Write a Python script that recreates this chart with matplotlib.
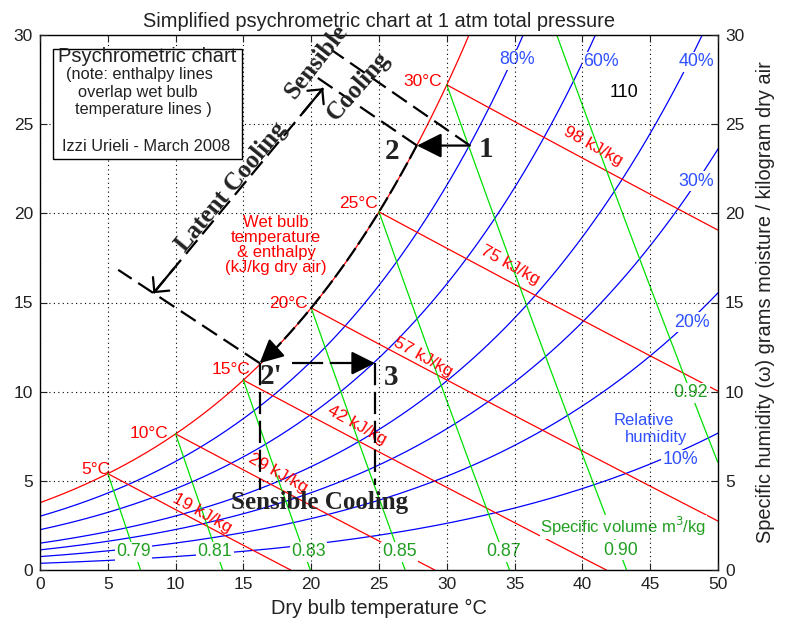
import numpy as np
import matplotlib
matplotlib.use('Agg')
import matplotlib.pyplot as plt
from matplotlib.patches import Rectangle

# ---------------- chart values ----------------
P_ATM = 101.325                                   # kPa, total pressure
rh_levels = [10, 20, 30, 40, 60, 80]              # relative humidity lines, %
rh_labels = ['10%', '20%', '30%', '40%', '60%', '80%']
wb_temps = [5, 10, 15, 20, 25, 30]                # wet bulb / saturation points, degC
wb_labels = ['5°C', '10°C', '15°C', '20°C', '25°C', '30°C']
enthalpy_labels = ['19 kJ/kg', '29 kJ/kg', '42 kJ/kg', '57 kJ/kg', '75 kJ/kg', '98 kJ/kg']
vol_temps = [5, 10, 15, 20, 25, 30, 35]           # saturation temps where volume lines start
vol_labels = ['0.79', '0.81', '0.83', '0.85', '0.87', '0.90', '0.92']
x_ticks = [0, 5, 10, 15, 20, 25, 30, 35, 40, 45, 50]
y_ticks = [0, 5, 10, 15, 20, 25, 30]

# process states (dry bulb degC, humidity g/kg)
state_names = ['1', '2', "2'", '3']
state_T = [31.7, 27.8, 16.2, 24.7]
state_w = [23.8, 23.8, 11.6, 11.6]

# ---------------- positions (layout only) ----------------
rh_label_pos = [(47.2, 6.17), (48.05, 13.9), (48.4, 21.8), (48.4, 28.5), (41.4, 28.5), (35.2, 28.6)]
wb_label_pos = [(4.12, 5.61), (8.05, 7.68), (14.07, 11.22), (18.31, 14.96), (23.47, 20.57), (28.21, 27.39)]
h_label_pos = [(11.92, 3.18), (17.57, 5.42), (23.35, 8.13), (28.27, 11.96), (34.66, 17.1), (40.8, 23.74)]
v_label_pos = [(6.9, 1.03), (12.9, 1.03), (19.8, 1.03), (26.5, 1.03), (34.2, 1.03), (42.8, 1.12), (48.0, 9.93)]
state_label_pos = [(32.9, 23.6), (26.0, 23.46), (17.08, 10.84), (25.87, 10.8)]

# ---------------- psychrometric relations ----------------
def p_ws(T):
    Tk = np.asarray(T, float) + 273.15
    return np.exp(-5.8002206e3 / Tk + 1.3914993 - 4.8640239e-2 * Tk + 4.1764768e-5 * Tk**2
                  - 1.4452093e-8 * Tk**3 + 6.5459673 * np.log(Tk)) / 1000.0

def w_of(T, phi):
    pv = phi * p_ws(T)
    return 621.98 * pv / (P_ATM - pv)

def enthalpy(T, w):
    return 1.006 * T + w / 1000.0 * (2501 + 1.86 * T)

def volume(T, w):
    return 0.287055 * (T + 273.15) * (1 + 1.6078 * w / 1000.0) / P_ATM

RED = '#ff0000'
BLUE = '#0000ff'
GREEN = '#00e000'
GREEN_TXT = '#22a022'
BLUE_TXT = '#3050ff'
SANS = ['Liberation Sans', 'DejaVu Sans']
SERIF = ['Liberation Serif', 'DejaVu Serif']
plt.rcParams['font.family'] = SANS

fig = plt.figure(figsize=(7.9, 6.23), dpi=100)
ax = fig.add_axes([40 / 790, 53 / 623, 678 / 790, 535 / 623])
ax.set_xlim(0, 50)
ax.set_ylim(0, 30)

T = np.linspace(0, 50, 1001)
# saturation curve
ax.plot(T, w_of(T, 1.0), color=RED, lw=0.9, zorder=2)
# relative humidity curves
for rh in rh_levels:
    ax.plot(T, w_of(T, rh / 100.0), color=BLUE, lw=0.9, zorder=2)

# enthalpy (wet bulb) lines
for tw in wb_temps:
    ws = float(w_of(tw, 1.0))
    h = enthalpy(tw, ws)
    t_end = min(h / 1.006, 50.0)
    tt = np.linspace(tw, t_end, 200)
    ww = 1000 * (h - 1.006 * tt) / (2501 + 1.86 * tt)
    ax.plot(tt, ww, color=RED, lw=0.9, zorder=2)

# specific volume lines
for ts in vol_temps:
    ws = float(w_of(ts, 1.0))
    v = volume(ts, ws)
    ww = np.linspace(ws, 0, 400)
    tt = v * P_ATM / (0.287055 * (1 + 1.6078 * ww / 1000.0)) - 273.15
    m = tt <= 50
    ax.plot(tt[m], ww[m], color=GREEN, lw=0.9, zorder=2)

lab_bbox = dict(boxstyle='square,pad=0.08', fc='white', ec='none')
for lab, (x, y) in zip(rh_labels, rh_label_pos):
    ax.text(x, y, lab, color=BLUE_TXT, fontsize=12.8, ha='center', va='center', zorder=2.2, bbox=lab_bbox)
for lab, (x, y) in zip(vol_labels, v_label_pos):
    ax.text(x, y, lab, color=GREEN_TXT, fontsize=12.8, ha='center', va='center', zorder=2.2, bbox=lab_bbox)
for lab, (x, y) in zip(wb_labels, wb_label_pos):
    ax.text(x, y, lab, color=RED, fontsize=12.5, ha='center', va='center', zorder=2.2)
for lab, (x, y) in zip(enthalpy_labels, h_label_pos):
    ax.text(x, y, lab, color=RED, fontsize=12.5, ha='center', va='center', rotation=-29,
            rotation_mode='anchor', zorder=2.2)

ax.text(43.0, 2.42, 'Specific volume m$^3$/kg', color=GREEN_TXT, fontsize=12, ha='center',
        va='center', zorder=2.3, bbox=dict(boxstyle='square,pad=0.02', fc='white', ec='none'))
ax.text(44.5, 8.41, 'Relative', color=BLUE_TXT, fontsize=12, ha='center', va='center')
ax.text(45.4, 7.44, 'humidity', color=BLUE_TXT, fontsize=12, ha='center', va='center')
ax.text(43.07, 26.8, '110', color='black', fontsize=13, ha='center', va='center')
ax.text(17.4, 18.2, 'Wet bulb\ntemperature\n& enthalpy\n(kJ/kg dry air)', color=RED, fontsize=12,
        ha='center', va='center', multialignment='center', linespacing=1.0)

# ---------------- note box ----------------
ax.add_patch(Rectangle((0.93, 23.03), 13.94, 6.17, fc='white', ec='black', lw=1.0, zorder=4))
box_lines = ['Psychrometric chart', '(note: enthalpy lines', 'overlap wet bulb', 'temperature lines )',
             'Izzi Urieli - March 2008']
box_pos = [(7.87, 28.77), (7.37, 27.8), (7.19, 26.77), (7.62, 25.84), (7.80, 23.75)]
box_size = [14.5, 11.8, 11.8, 11.8, 11.8]
for s, (x, y), fs in zip(box_lines, box_pos, box_size):
    ax.text(x, y, s, fontsize=fs, ha='center', va='center', zorder=5, color='#222222')

# ---------------- process annotations ----------------
K = dict(color='black', lw=1.6, zorder=3)
DASH = (8, 3.5)
p1 = (state_T[0], state_w[0]); p2 = (state_T[1], state_w[1])
p2p = (state_T[2], state_w[2]); p3 = (state_T[3], state_w[3])

def arrow(tip, tail, style='-|>', ms=38, lw=1.6):
    ax.annotate('', xy=tip, xytext=tail,
                arrowprops=dict(arrowstyle=style, mutation_scale=ms, color='black', lw=lw,
                                shrinkA=0, shrinkB=0), zorder=3)

# 1 -> 2 sensible cooling (solid, filled head)
arrow(p2, p1)
# 2 -> 2' along saturation curve (dashed)
tc = np.linspace(p2[0], p2p[0] + 0.9, 200)
ax.plot(tc, w_of(tc, 1.0), dashes=(7, 2), **K)
arrow(p2p, (p2p[0] + 1.0, float(w_of(p2p[0] + 1.0, 1.0))), ms=36)
# 2' -> 3 (dashed, filled head)
ax.plot([18.56, p3[0] - 1.2], [p2p[1], p3[1]], dashes=(14, 3), **K)
arrow(p3, (p3[0] - 1.3, p3[1]), ms=36)
# vertical drops
ax.plot([p2p[0], p2p[0]], [p2p[1], 4.5], dashes=(10, 3), **K)
ax.plot([p3[0], p3[0]], [p3[1], 4.77], dashes=(10, 3), **K)
# extension lines
ax.plot([p1[0], 21.5], [p1[1], 29.16], dashes=DASH, **K)
ax.plot([p2[0], 20.16], [p2[1], 27.76], dashes=DASH, **K)
ax.plot([p2p[0], 5.77], [p2p[1], 16.83], dashes=DASH, **K)
# latent cooling dimension line with open heads
la, lb = np.array([8.36, 15.52]), np.array([20.89, 27.02])
ax.plot([la[0], lb[0]], [la[1], lb[1]], dashes=DASH, **K)
arrow(tuple(la), tuple(la + 0.12 * (lb - la)), style='->,head_length=0.4,head_width=0.4', ms=19)
arrow(tuple(lb), tuple(lb - 0.12 * (lb - la)), style='->,head_length=0.4,head_width=0.4', ms=19)

BF = dict(family=SERIF, fontweight='bold', color='#222222', zorder=6)
ax.text(14.14, 21.5, 'Latent Cooling', fontsize=18, rotation=50.3, rotation_mode='anchor',
        ha='center', va='center', **BF)
ax.text(20.4, 28.5, 'Sensible', fontsize=18, rotation=52, rotation_mode='anchor',
        ha='center', va='center', **BF)
ax.text(23.47, 27.16, 'Cooling', fontsize=18, rotation=49, rotation_mode='anchor',
        ha='center', va='center', **BF)
ax.text(20.65, 3.8, 'Sensible Cooling', fontsize=18, ha='center', va='center', **BF)
for nm, (x, y) in zip(state_names, state_label_pos):
    ax.text(x, y, nm, fontsize=21, ha='center', va='center', **BF)

# ---------------- axes styling ----------------
ax.set_xticks(x_ticks)
ax.set_yticks(y_ticks)
ax.grid(True, color='black', linestyle=(0, (1, 3)), lw=0.8)
ax.set_axisbelow(False)
ax.tick_params(direction='in', top=True, right=True, labelleft=True, labelright=True,
               labelsize=12.5, length=5, pad=5, colors='#222222')
for sp in ax.spines.values():
    sp.set_linewidth(1.0)
ax.yaxis.set_label_position('right')
ax.set_ylabel('Specific humidity (ω) grams moisture / kilogram dry air', fontsize=14.4,
              color='#222222', labelpad=8)
ax.set_xlabel('Dry bulb temperature °C', fontsize=14.4, color='#222222', labelpad=5)
ax.set_title('Simplified psychrometric chart at 1 atm total pressure', fontsize=14.4,
             color='#222222', pad=6)

fig.savefig('out.png', dpi=100)
